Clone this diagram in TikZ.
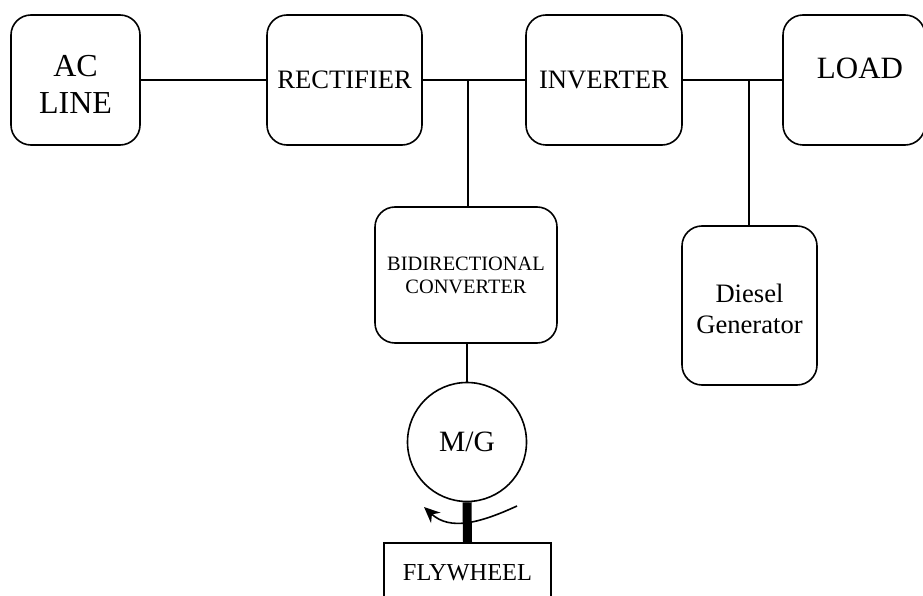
\documentclass[tikz,border=0pt]{standalone}
\usepackage{fontspec}
\setmainfont{Liberation Serif}
\usetikzlibrary{arrows.meta}

\tikzset{
  blk/.style={draw, line width=1.6pt, rounded corners=20pt, inner sep=0pt, align=center},
  plainbox/.style={draw, line width=1.6pt, inner sep=0pt, align=center},
  wire/.style={line width=1.6pt},
  bigtxt/.style={font=\fontsize{32}{37}\selectfont},
  midtxt/.style={font=\fontsize{26.6}{31}\selectfont},
  smalltxt/.style={font=\fontsize{20.4}{23}\selectfont},
}

\begin{document}
\begin{tikzpicture}[x=1pt, y=-1pt]
  \useasboundingbox (0,0) rectangle (923,596);
  \clip (0,0) rectangle (923,596);

  % main power path
  \node[blk, minimum width=129pt, minimum height=130pt] (ac) at (75.5,80) {};
  \node[bigtxt, inner sep=0pt, align=center] (actxt) at (75.5,84) {AC\\LINE};
  \node[blk, midtxt, minimum width=155pt, minimum height=130pt] (rect) at (344.5,80) {RECTIFIER};
  \node[blk, midtxt, minimum width=156pt, minimum height=130pt] (inv) at (604,80) {INVERTER};
  \node[blk, minimum width=142pt, minimum height=130pt] (load) at (854,80) {};
  \node[font=\fontsize{31}{37}\selectfont, inner sep=0pt] (loadtxt) at (860,68) {LOAD};

  % storage and backup branches
  \node[blk, smalltxt, minimum width=182pt, minimum height=136pt] (bidi) at (466,275) {BIDIRECTIONAL\\CONVERTER};
  \node[blk, midtxt, minimum width=135pt, minimum height=159pt] (dg) at (749.5,305.5) {};
  \node[midtxt, inner sep=0pt, align=center] (dgtxt) at (749.5,309) {Diesel\\Generator};
  \node[draw, circle, line width=1.6pt, minimum size=119pt, inner sep=0pt, font=\fontsize{29.5}{33}\selectfont] (mg) at (467,442) {M/G};
  \node[plainbox, font=\fontsize{24.4}{29}\selectfont, minimum width=167pt, minimum height=60pt] (fly) at (467.5,573) {FLYWHEEL};

  % connectors
  \draw[wire] (ac.east) -- (rect.west);
  \draw[wire] (rect.east) -- (inv.west);
  \draw[wire] (inv.east) -- (load.west);
  \coordinate (j1) at (468,80);
  \coordinate (j2) at (749,80);
  \draw[wire] (j1) -- (j1 |- bidi.north);
  \draw[wire] (j2) -- (j2 |- dg.north);
  \draw[wire] (bidi.south -| mg.north) -- (mg.north);

  % rotation arrow round the shaft
  \coordinate (rotA) at (517,506);
  \coordinate (rotB) at (424,507);
  \draw[wire, -{Stealth[length=16pt, width=14pt]}] (rotA) .. controls (480,523) and (450,531) .. (rotB);

  % shaft
  \draw[line width=9pt] (mg.south) -- (fly.north);
\end{tikzpicture}
\end{document}
